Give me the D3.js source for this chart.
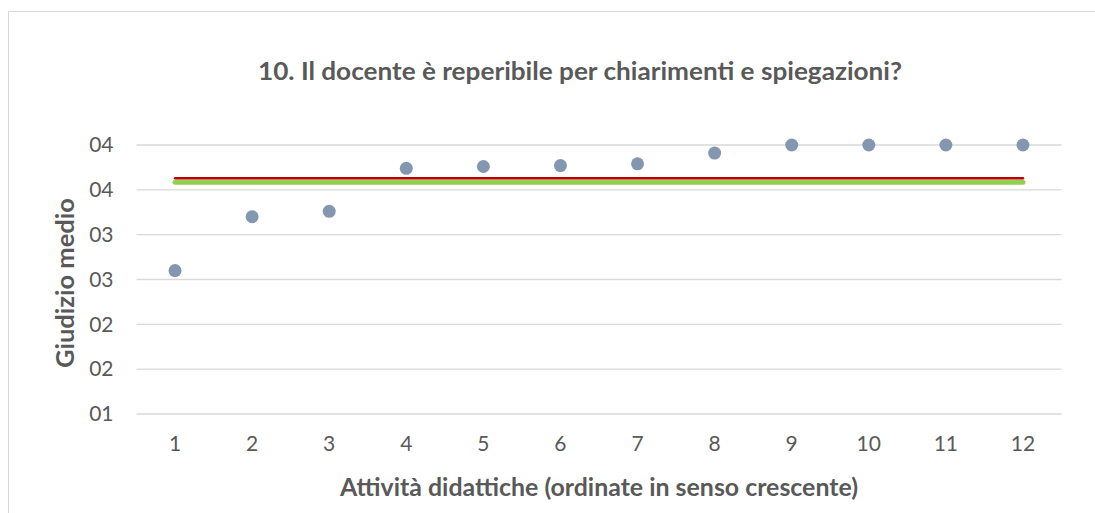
<!DOCTYPE html>
<html>
<head>
<meta charset="utf-8">
<script src="https://cdn.jsdelivr.net/npm/d3@7"></script>
<style>
	body{margin:0;background:#fff;overflow:hidden}
	svg{display:block}
	text{font-family:Lato,"Open Sans",sans-serif}
</style>
</head>
<body>
<div id="chart"></div>
<script>
// categories and values
var categories=["1","2","3","4","5","6","7","8","9","10","11","12"]
var giudizi=[2.60,3.20,3.26,3.74,3.76,3.77,3.79,3.91,4.00,4.00,4.00,4.00]
var mediaRossa=3.63
var mediaVerde=3.585
var yTicks=[1,1.5,2,2.5,3,3.5,4]
var yTickLabels=["01","02","02","03","03","04","04"]

var width=1095, height=513

var svg=d3.select("#chart").append("svg")
	.attr("width",width)
	.attr("height",height)

// chart border, only the top and left edges fall inside the picture
svg.append("path")
	.attr("d","M8.5,"+height+"V11.5H"+width)
	.attr("fill","none")
	.attr("stroke","#d9d9d9")

var x=d3.scaleBand()
	.domain(categories)
	.range([136.5,1061.5])

var y=d3.scaleLinear()
	.domain([1,4])
	.range([414,145])

// gridlines
svg.append("g")
	.selectAll("line")
	.data(yTicks)
	.enter().append("line")
	.attr("x1",136.5).attr("x2",1061.5)
	.attr("y1",function(d){return y(d)})
	.attr("y2",function(d){return y(d)})
	.attr("stroke","#d9d9d9")
	.attr("stroke-width",1.3)

// y labels
var yAxis=d3.axisLeft(y)
	.tickValues(yTicks)
	.tickSize(0)
	.tickPadding(23)
	.tickFormat(function(d,i){return yTickLabels[i]})
svg.append("g")
	.attr("transform","translate(136.5,0)")
	.call(yAxis)
	.call(function(g){g.select(".domain").remove()})
	.selectAll("text")
	.attr("font-size","21px")
	.attr("fill","#595959")
	.style("font-family","Lato,sans-serif")

// x labels
var xAxis=d3.axisBottom(x).tickSize(0).tickPadding(22)
svg.append("g")
	.attr("transform","translate(0,414)")
	.call(xAxis)
	.call(function(g){g.select(".domain").remove()})
	.selectAll("text")
	.attr("font-size","21px")
	.attr("fill","#595959")
	.style("font-family","Lato,sans-serif")

var cx=function(d){return x(d)+x.bandwidth()/2}
var first=categories[0], last=categories[categories.length-1]

// average lines
svg.append("line")
	.attr("x1",cx(first)).attr("x2",cx(last))
	.attr("y1",y(mediaVerde)).attr("y2",y(mediaVerde))
	.attr("stroke","#92d050")
	.attr("stroke-width",5)
	.attr("stroke-linecap","round")
svg.append("line")
	.attr("x1",cx(first)).attr("x2",cx(last))
	.attr("y1",y(mediaRossa)).attr("y2",y(mediaRossa))
	.attr("stroke","#c00000")
	.attr("stroke-width",2.5)
	.attr("stroke-linecap","round")

// points
svg.selectAll(".dot")
	.data(giudizi)
	.enter().append("circle")
	.attr("class","dot")
	.attr("cx",function(d,i){return cx(categories[i])})
	.attr("cy",function(d){return y(d)})
	.attr("r",6.5)
	.attr("fill","#8497b0")

// titles
svg.append("text")
	.attr("x",580).attr("y",80)
	.attr("text-anchor","middle")
	.attr("font-size","25px")
	.attr("font-weight","bold")
	.attr("fill","#595959")
	.attr("textLength",644)
	.attr("lengthAdjust","spacingAndGlyphs")
	.text("10. Il docente è reperibile per chiarimenti e spiegazioni?")

svg.append("text")
	.attr("x",599).attr("y",496)
	.attr("text-anchor","middle")
	.attr("font-size","25px")
	.attr("font-weight","bold")
	.attr("fill","#595959")
	.attr("textLength",518)
	.attr("lengthAdjust","spacingAndGlyphs")
	.text("Attività didattiche (ordinate in senso crescente)")

svg.append("text")
	.attr("transform","translate(74,283) rotate(-90)")
	.attr("text-anchor","middle")
	.attr("font-size","25px")
	.attr("font-weight","bold")
	.attr("fill","#595959")
	.attr("textLength",170)
	.attr("lengthAdjust","spacingAndGlyphs")
	.text("Giudizio medio")
</script>
</body>
</html>
